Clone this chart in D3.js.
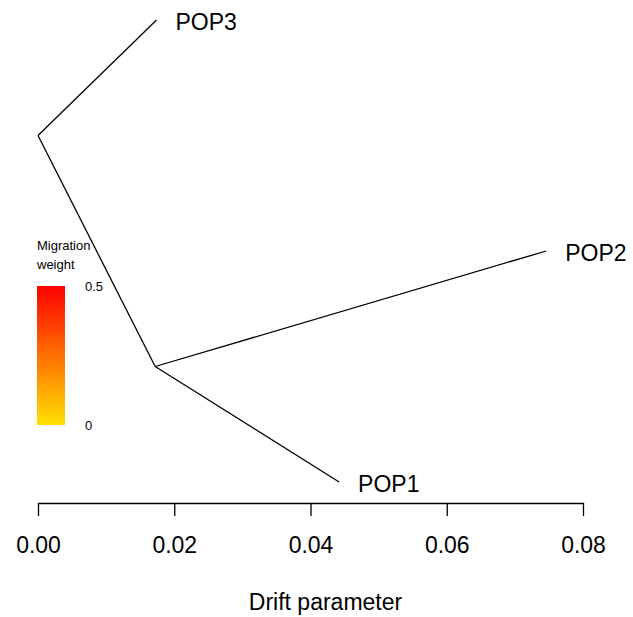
<!DOCTYPE html>
<html>
<head>
<meta charset="utf-8">
<script src="https://cdn.jsdelivr.net/npm/d3@7"></script>
<style>
  body { margin: 0; background: #fff; }
  text { font-family: "Liberation Sans", Arial, sans-serif; }
</style>
</head>
<body>
<svg id="chart" width="633" height="617"></svg>
<script>
// tree nodes: drift (x) and vertical order (y)
var nodeIds = ["root", "n1", "POP1", "POP2", "POP3"];
var nodeDrift = [0, 0.0172, 0.0442, 0.0746, 0.0174];
var nodeY = [2.5, 1.5, 1, 2, 3];
var tipNames = ["POP1", "POP2", "POP3"];
var edges = [["root", "POP3"], ["root", "n1"], ["n1", "POP2"], ["n1", "POP1"]];
var xTicks = [0, 0.02, 0.04, 0.06, 0.08];
var legendTicks = [0, 0.5];

var svg = d3.select("#chart");

var x = d3.scaleLinear().domain([0, 0.08]).range([38, 583]);
var y = d3.scaleLinear().domain([1, 3]).range([482, 20]);

var pos = {};
nodeIds.forEach(function (id, i) {
    pos[id] = {x: x(nodeDrift[i]), y: y(nodeY[i])};
});

// branches
svg.append("g").selectAll("line")
    .data(edges)
    .enter().append("line")
    .attr("x1", function (d) { return pos[d[0]].x; })
    .attr("y1", function (d) { return pos[d[0]].y; })
    .attr("x2", function (d) { return pos[d[1]].x; })
    .attr("y2", function (d) { return pos[d[1]].y; })
    .attr("stroke", "#000")
    .attr("stroke-width", 1.3);

// tip labels
svg.append("g").selectAll("text")
    .data(tipNames)
    .enter().append("text")
    .attr("x", function (d) { return pos[d].x + 19; })
    .attr("y", function (d) { return pos[d].y + 10; })
    .attr("font-size", 23)
    .attr("fill", "#000")
    .text(function (d) { return d; });

// x axis
var axis = d3.axisBottom(x)
    .tickValues(xTicks)
    .tickFormat(d3.format(".2f"))
    .tickSizeInner(13)
    .tickSizeOuter(0)
    .tickPadding(21);

var gx = svg.append("g")
    .attr("transform", "translate(0,503)")
    .call(axis);
gx.select(".domain").attr("stroke", "#000").attr("stroke-width", 1.3);
gx.selectAll(".tick line").attr("stroke", "#000").attr("stroke-width", 1.3);
gx.selectAll(".tick text")
    .attr("font-size", 23)
    .attr("font-family", "Liberation Sans, Arial, sans-serif")
    .attr("fill", "#000");

svg.append("text")
    .attr("x", x(0.04) + 15)
    .attr("y", 610)
    .attr("text-anchor", "middle")
    .attr("font-size", 23)
    .attr("fill", "#000")
    .text("Drift parameter");

// migration weight legend
var defs = svg.append("defs");
var grad = defs.append("linearGradient")
    .attr("id", "mig")
    .attr("x1", 0).attr("y1", 1)
    .attr("x2", 0).attr("y2", 0);
grad.append("stop").attr("offset", "0%").attr("stop-color", "#FFE000");
grad.append("stop").attr("offset", "100%").attr("stop-color", "#FF0000");

var ly = d3.scaleLinear().domain([0, 0.5]).range([425, 286]);

svg.append("rect")
    .attr("x", 37)
    .attr("y", ly(0.5))
    .attr("width", 28)
    .attr("height", ly(0) - ly(0.5))
    .attr("fill", "url(#mig)");

svg.append("g").selectAll("text")
    .data(legendTicks)
    .enter().append("text")
    .attr("x", 85)
    .attr("y", function (d) { return ly(d) + 5; })
    .attr("font-size", 13)
    .attr("fill", "#000")
    .text(function (d) { return d; });

svg.append("text")
    .attr("x", 37)
    .attr("y", 250)
    .attr("font-size", 13)
    .attr("fill", "#000")
    .text("Migration");
svg.append("text")
    .attr("x", 37)
    .attr("y", 269)
    .attr("font-size", 13)
    .attr("fill", "#000")
    .text("weight");
</script>
</body>
</html>
